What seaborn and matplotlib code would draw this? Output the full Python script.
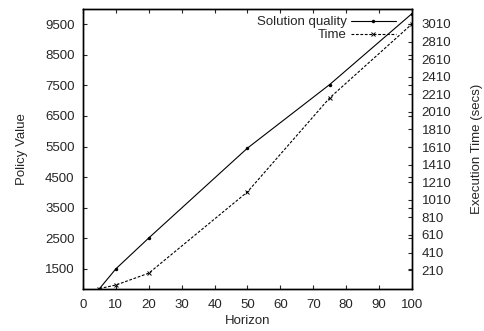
import pandas as pd
import matplotlib
matplotlib.use("Agg")
import matplotlib.pyplot as plt
import seaborn as sns

# datos
horizon = [5, 10, 20, 50, 75, 100]
solution_quality = [850, 1500, 2510, 5450, 7530, 9850]
exec_time = [0, 40, 175, 1100, 2170, 3010]

left_ticks = list(range(1500, 9501, 1000))
right_ticks = list(range(210, 3011, 200))
x_ticks = list(range(0, 101, 10))

sns.set_style("ticks")
plt.rcParams["font.family"] = ["Liberation Sans", "DejaVu Sans"]
plt.rcParams["font.size"] = 9.5

df = pd.DataFrame({"horizon": horizon, "quality": solution_quality, "time": exec_time})

fig = plt.figure(figsize=(4.85, 3.31), dpi=100)
ax = fig.add_axes([0.1711, 0.1269, 0.6784, 0.8459])
ax2 = ax.twinx()

sns.lineplot(x="horizon", y="quality", data=df, ax=ax, color="black", lw=0.8,
             marker="o", markersize=2.5, markeredgewidth=0, label="Solution quality",
             legend=False)
sns.lineplot(x="horizon", y="time", data=df, ax=ax2, color="black", lw=0.8,
             linestyle=(0, (2.5, 1.5)), marker="x", markersize=3.3, markeredgewidth=0.7,
             markeredgecolor="black", label="Time", legend=False)

ax.set_xlim(0, 100)
ax.set_ylim(840, 10000)
ax2.set_ylim(-5, 3180)
ax.set_xticks(x_ticks)
ax.set_yticks(left_ticks)
ax2.set_yticks(right_ticks)

ax.set_xlabel("Horizon", labelpad=3)
ax.set_ylabel("Policy Value", labelpad=12)
ax2.set_ylabel("Execution Time (secs)", labelpad=14)

for a in (ax, ax2):
    for s in a.spines.values():
        s.set_linewidth(1.0)
        s.set_color("black")
ax.tick_params(axis="both", direction="in", length=3, width=0.8, top=True, right=True, pad=6)
ax.tick_params(axis="x", pad=7)
ax2.tick_params(axis="y", direction="in", length=3, width=0.8, pad=7)

h1, l1 = ax.get_legend_handles_labels()
h2, l2 = ax2.get_legend_handles_labels()
ax2.legend(h1 + h2, l1 + l2, loc="upper right", bbox_to_anchor=(0.95, 0.975),
           frameon=False, markerfirst=False, handlelength=3.4, handletextpad=0.3,
           labelspacing=0.05, borderpad=0, borderaxespad=0, numpoints=1)

plt.savefig("out.png", dpi=100)
plt.close()
